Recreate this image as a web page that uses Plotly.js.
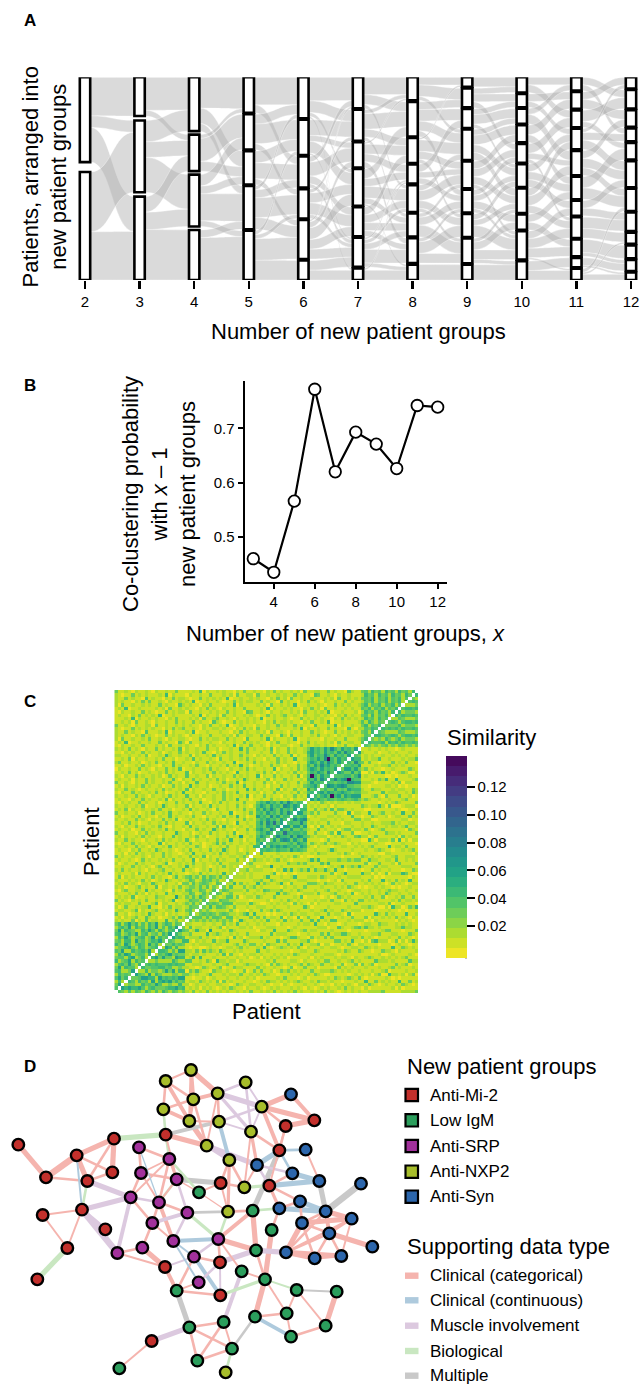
<!DOCTYPE html>
<html><head><meta charset="utf-8">
<script src="https://cdn.plot.ly/plotly-3.0.1.min.js"></script>
<style>html,body{margin:0;padding:0;background:#fff}#chart{width:641px;height:1385px}</style>
</head><body><div id="chart"></div>
<script>
// ---------------- Panel A data ----------------
const numGroups = [2,3,4,5,6,7,8,9,10,11,12];
const groupSizes = [
  [44,56],
  [20,37,43],
  [28,19,27,26],
  [18,18,17,22,25],
  [21,18,16,15,20,10],
  [16,16,13,19,15,15,6],
  [12,18,13,10,14,12,13,8],
  [5,10,10,16,14,12,12,13,8],
  [8,7,8,9,10,12,13,8,15,10],
  [7,9,9,11,13,12,8,11,9,5,6],
  [6,10,9,7,9,14,12,10,6,7,6,4]
];
// flows between consecutive numbers of groups: [fromGroup, toGroup, patients]
const flows = [
  [[1,1,20],[1,2,6],[1,3,18],[2,2,31],[2,3,25]],
  [[1,1,17],[1,2,3],[2,1,11],[2,2,8],[2,3,18],[3,2,8],[3,3,9],[3,4,26]],
  [[1,1,16],[1,3,8],[1,4,4],[2,1,2],[2,2,12],[2,3,5],[3,2,6],[3,3,4],[3,4,14],[3,5,3],[4,4,4],[4,5,22]],
  [[1,1,14],[1,3,4],[2,1,5],[2,2,10],[2,4,3],[3,2,6],[3,3,8],[3,5,3],[4,1,2],[4,3,4],[4,4,10],[4,5,6],[5,2,2],[5,4,2],[5,5,11],[5,6,10]],
  [[1,1,12],[1,2,6],[1,4,2],[1,7,1],[2,2,8],[2,3,3],[2,4,6],[2,6,1],[3,1,3],[3,3,7],[3,5,4],[3,6,2],[4,2,2],[4,4,5],[4,5,6],[4,6,2],[5,1,1],[5,3,3],[5,4,6],[5,5,5],[5,6,5],[6,6,5],[6,7,5]],
  [[1,1,9],[1,2,5],[1,5,2],[2,1,2],[2,2,8],[2,3,4],[2,6,2],[3,1,1],[3,3,5],[3,4,4],[3,7,3],[4,2,5],[4,4,4],[4,5,6],[4,6,3],[4,8,1],[5,3,4],[5,5,4],[5,6,4],[5,7,3],[6,4,1],[6,5,2],[6,6,3],[6,7,7],[6,8,2],[7,4,1],[7,8,5]],
  [[1,1,4],[1,2,6],[1,4,2],[2,2,4],[2,3,6],[2,4,5],[2,6,3],[3,1,1],[3,4,6],[3,5,4],[3,7,2],[4,3,4],[4,5,3],[4,6,3],[5,4,3],[5,5,5],[5,7,4],[5,8,2],[6,5,2],[6,6,4],[6,8,6],[7,6,2],[7,7,6],[7,8,5],[8,9,8]],
  [[1,1,5],[2,1,3],[2,2,4],[2,5,3],[3,2,3],[3,3,5],[3,6,2],[4,3,3],[4,4,5],[4,6,4],[4,7,4],[5,4,4],[5,5,4],[5,7,4],[5,9,2],[6,5,3],[6,6,3],[6,8,4],[6,9,2],[7,6,3],[7,7,3],[7,9,6],[8,7,2],[8,8,4],[8,9,5],[8,10,2],[9,10,8]],
  [[1,1,4],[1,3,4],[2,2,4],[2,4,3],[3,1,3],[3,5,5],[4,2,5],[4,6,4],[5,3,5],[5,5,3],[5,8,2],[6,4,4],[6,6,4],[6,7,4],[7,4,4],[7,5,5],[7,8,4],[8,6,4],[8,9,4],[9,7,4],[9,8,5],[9,9,5],[9,11,1],[10,10,5],[10,11,5]],
  [[1,2,4],[1,4,3],[2,1,4],[2,3,5],[3,2,6],[3,5,3],[4,1,2],[4,4,4],[4,6,5],[5,3,4],[5,6,5],[5,7,4],[6,5,6],[6,7,6],[7,6,4],[7,8,4],[8,8,6],[8,9,5],[9,10,7],[9,11,2],[10,11,4],[10,12,1],[11,7,2],[11,9,1],[11,12,3]]
];

// ---------------- Panel B data ----------------
const coNumGroups = [3,4,5,6,7,8,9,10,11,12];
const coClusterProb = [0.460,0.435,0.566,0.772,0.620,0.693,0.671,0.626,0.742,0.739];

// ---------------- Panel C data (lower triangle, one level code per cell) ----------------
const simLevels = {'0':0.002,'1':0.009,'2':0.016,'3':0.026,'4':0.036,'5':0.046,'6':0.058,'7':0.070,'8':0.086,'9':0.110,'a':0.135};
const simTicks = [0.02,0.04,0.06,0.08,0.10,0.12];
const heatBlockStarts = [0,21,35,42,57,73];
const heatRowsA = ["","4","36","252","4635","25343","452236","3625442","24536325","523462534","3442562352","25365234425","436225345362","2345632542345","53264235426352","342552634235463","2536423452362534","45235362452342536","362543225364253245","2453625342536242536","35246352425362354243"];
const heatRowsB = [
"212113021412211512312|",
"120212311421201123142|3",
"311201212152112021211|24",
"122112402112311221521|342",
"201311212251102131221|2433",
"121221131112402211212|32423",
"312102121311212125011|243324",
"121214011211322111621|3242532",
"211121312021211412112|24312423",
"102311221512112103121|342243124",
"212011231211402212131|2332424132",
"121312102214211211203|31423432143",
"211121213120121521121|243124342312",
"130212111213121102412|3423142432423"];
const heatRowsG = [
"12111203121121214121101213121121512|",
"21312112102112311211412101213121112|2",
"11211312121023112112151211210121312|12",
"20121131211211240112121311211213112|221",
"12112101312112121311211502112131211|1312",
"31211211210211312112113121402112112|21231",
"11202131211211312110121511211213121|122131"];
const heatRowsC = [
"121102131121421121012131121131215211201211|",
"211211312102112141211211320121121311211215|5",
"102113121121150211212131120112413121121121|46",
"211312110211213121121410211211312151120211|534",
"120211213121102114121121312011211312161121|4653",
"311211021312112111521120121131211214011211|35464",
"121120113121121412110211312115212110211312|564375",
"210211312112131102112141211211305121121121|4536546",
"112131201121121312111402112113121210511211|46375846",
"211211312102113121401121121312110211213121|354645364",
"120112131211021141211213110211213121512011|6453746354",
"311211201213112141121102113121121150112131|45364536475",
"121302112112131120112141211210311211213121|536475364536",
"211211213011215211211302112141211211312102|4653645376465",
"102121131211201211312112141102131211213111|35464536475354"];
const heatRowsD = [
"121102113121121402112131120112113121511201121131211202112|",
"211211312102112131211411202112113121121502113121102113121|6",
"102113121121312011215112110211213121411211202113121121312|45",
"211312101211213121121402112113112011211513121121402113121|635",
"120211213121120113121151211201121131214112112021131211213|4563",
"311210211312112131120211411211213121502112113120211211312|36454",
"121120211312112114102113121121312011215211211302113121121|546375",
"210211312112120131211411211302112113121211502113121121402|4a53645",
"1121312011211213121114021121131212105112112131202112131211|35465374",
"0211211312102113121401121121312110211213121121150211213120|465364546",
"1120112131211021141211213110211213121512011211312102113121|5364756453",
"2311211201213112141121102113121121150112131211213121102113|46536475364",
"1121302112112131120112141211210311211213121102113121151121|354647a53645",
"2211211213011215211211302112141211211312102121131211402112|4635475364536",
"1102121131211201211312112141102131211213111211302113121121|56453645364754",
"2121312102113121121402112113112011211513121121402113121121|364536475364536"];
const heatRowsE = [
"1021121131"+"1121203112"+"1211021312"+"1112150211"+"3112102112"+"2101131212"+"2121102131"+"121|",
"1215011211"+"2113121104"+"2031121121"+"1021121131"+"2121102131"+"1211021312"+"1121203112"+"211|4",
"2031121121"+"3112102112"+"2101131212"+"2113121104"+"1112150211"+"1215011211"+"1021121131"+"112|35",
"2121102131"+"2101131212"+"1021121131"+"1121203112"+"2113121104"+"2031121121"+"3112102112"+"211|243",
"2113121104"+"1112150211"+"1215011211"+"1211021312"+"1121203112"+"1021121131"+"2101131212"+"121|3425",
"2101131212"+"1211021312"+"3112102112"+"2121102131"+"2031121121"+"1112150211"+"2113121104"+"102|24354",
"3112102112"+"2031121121"+"2121102131"+"1215011211"+"1021121131"+"2113121104"+"1112150211"+"211|352435",
"1121203112"+"1021121131"+"2113121104"+"2101131212"+"1211021312"+"2121102131"+"1215011211"+"112|4253243",
"1112150211"+"2121102131"+"1121203112"+"3112102112"+"1215011211"+"2101131212"+"1211021312"+"121|25342534",
"1211021312"+"1215011211"+"1112150211"+"2031121121"+"2101131212"+"3112102112"+"2121102131"+"211|342524352",
"1021121131"+"2101131212"+"2031121121"+"2113121104"+"3112102112"+"1121203112"+"1215011211"+"120|2534253425",
"1215011211"+"1121203112"+"1211021312"+"1021121131"+"1112150211"+"2121102131"+"2031121121"+"211|43524352435",
"2031121121"+"2113121104"+"2121102131"+"1112150211"+"1121203112"+"1215011211"+"2101131212"+"112|352435243524",
"2121102131"+"3112102112"+"1215011211"+"2101131212"+"2113121104"+"1211021312"+"1021121131"+"211|2435243524352",
"2113121104"+"1211021312"+"2101131212"+"1215011211"+"2121102131"+"2031121121"+"1121203112"+"121|34352435243524",
"2101131212"+"1112150211"+"1021121131"+"1121203112"+"2031121121"+"2113121104"+"3112102112"+"111|253425342534253",
"3112102112"+"1021121131"+"1112150211"+"2121102131"+"1211021312"+"1121203112"+"2113121104"+"211|3425342534253425"];

// ---------------- Panel D data ----------------
const groupNames = ['Anti-Mi-2','Low IgM','Anti-SRP','Anti-NXP2','Anti-Syn'];
const groupColors = ['#C3302C','#2B9E5C','#A2319C','#A7BD2B','#2C66AC'];
const edgeTypeNames = ['Clinical (categorical)','Clinical (continuous)','Muscle involvement','Biological','Multiple'];
const edgeTypeColors = ['#F5B4AE','#AECADD','#DCC9DF','#C9E7C1','#C9C9C9'];
const nodeX = [573,497,737,653,873,580,785,490,943,857,568,657,753,497,342,55,620,417,838,917,230,508,688,771,138,337,262,423,877,530,958,1083,662,733,808,597,392,477,900,128,246,684,758,838,562,977,1055,457,316,815,906,988,202,427,352,520,655,1117,768,858,944,1024,582,660,495,725,112,795,596,530,661,890,1010,860,765,671,977,568,873,455,696,592,358,677];
const nodeY = [90,123,127,160,163,178,200,208,241,258,243,245,275,284,296,314,317,322,331,329,346,357,360,375,412,397,423,399,400,418,423,431,429,442,437,457,472,487,484,525,509,515,512,505,518,514,536,549,568,570,549,580,624,623,639,603,597,620,631,637,655,648,650,667,681,694,718,718,727,752,766,750,755,820,830,846,857,862,890,903,926,962,985,997];
const nodeGroup = [3,3,3,3,4,3,3,3,0,0,3,3,3,0,0,0,3,2,0,4,0,2,3,4,0,0,0,2,4,2,4,4,0,3,0,1,2,2,4,0,0,3,1,4,2,4,4,2,0,1,4,4,0,2,2,2,2,4,1,4,4,4,2,0,0,1,0,1,2,1,0,1,1,1,1,1,1,1,1,0,1,1,1,3];
// [node, node, supporting data type, strength]
const edges = [
[1,2,0,1.5],[1,6,0,3],[1,4,0,4],[1,11,0,2],[2,6,0,2],[2,8,0,2],[2,11,0,3],[6,8,0,2],[6,11,0,2.5],[6,4,0,3],[8,11,0,3],[11,17,0,4],[6,17,0,2],[4,12,0,2],[4,17,0,1.5],[11,12,0,1.5],
[4,7,2,4],[4,3,2,2],[3,7,2,1.5],[3,13,2,2],[12,13,2,1.5],[12,7,2,2],[4,13,2,2.5],[7,13,2,1.5],
[7,5,0,4],[7,9,0,4],[5,9,0,3],[7,10,0,2],[10,9,0,4],[7,19,0,3],[10,19,0,2],
[8,14,3,2],[14,15,3,4],[14,12,4,3],[14,17,0,4],[14,22,3,2],[14,30,0,1.5],
[12,23,1,3],[17,23,2,3],[17,24,2,4],[13,24,0,2.5],[13,19,0,2],[13,34,0,1.5],
[19,20,1,2],[19,24,1,4],[19,29,1,2],[20,31,0,1.5],[29,31,1,4],[24,29,2,2],[19,43,4,4],[10,35,0,1.5],
[35,31,1,4],[35,29,0,2],[35,39,0,2],[35,44,0,2.5],[34,35,3,2.5],[33,34,0,2],[30,33,4,4],[33,23,0,2],[23,34,0,2],[23,42,0,2.5],[24,35,2,2],[24,34,0,1.5],
[31,46,4,4],[32,46,4,5],[39,46,1,4],[44,46,1,4],[44,39,0,2],[46,47,0,4],[46,51,0,2],[46,52,0,3],[51,52,0,2],[51,47,0,4],[52,47,0,2],[52,58,0,4],[52,61,0,2],[52,62,0,2],[60,51,0,4],[60,52,0,2],[60,61,0,4],[60,62,0,4],[61,62,0,2],[61,51,0,2],[62,47,0,1.5],[60,47,0,2],[60,46,0,2],[39,51,0,2],
[43,44,3,2],[43,42,0,2],[43,59,0,4],[43,57,0,3],[44,50,0,2],[50,68,0,4],[59,60,2,4],[64,59,2,4],[59,57,0,4],[57,42,3,2],[45,57,3,2.5],[36,33,0,1.5],[36,42,0,1],[33,42,0,1.5],[36,30,0,1],
[68,72,3,1.5],[68,71,3,2.5],[68,75,0,4],[68,74,0,1.5],[72,73,4,1.5],[72,74,0,1.5],[72,77,0,1.5],[73,77,0,4],[74,75,0,2],[74,79,0,1.5],[75,79,1,3],[77,79,0,2],[75,81,4,2],[76,78,0,2],[76,82,0,2],[78,81,0,2],[78,82,0,2],[81,82,0,2],[81,84,3,2],[76,81,0,1.5],[78,80,2,4],[80,83,0,1.5],[70,78,4,4],[70,71,0,2],[70,63,0,2],[63,64,0,2],[69,64,2,2],[63,56,1,1.5],[63,57,2,2],[64,57,0,2],[64,71,2,1.5],[66,76,2,3],[65,54,0,4],[65,63,2,1.5],[65,70,0,3],[56,57,1,3],[56,38,0,3],[56,69,1,1.5],[63,71,1,3],[69,70,0,1.5],[66,68,0,1.5],[59,68,0,2],[57,66,0,1.5],
[18,22,0,2],[18,28,0,2],[18,38,1,1],[22,28,0,1.5],[22,30,0,2],[22,37,0,1.5],[22,38,0,2],[28,30,0,2],[28,37,0,2],[28,38,0,1.5],[30,38,0,1.5],[37,38,2,2],[37,41,2,4],[37,27,2,4],[37,48,0,2],[37,55,2,3],[38,45,0,2],[38,48,0,2],[45,48,2,3],[48,54,0,2],[54,55,0,2],[55,41,2,5],[49,41,2,3],[22,36,3,2],[30,45,2,2],[45,56,2,2],[48,56,0,1.5],[54,65,0,2],[55,65,0,1.5],[45,42,4,2],[38,30,3,2],
[16,25,0,4],[25,21,0,5],[25,27,0,2],[21,15,0,4],[21,27,0,4],[21,26,0,2],[15,26,0,4],[15,27,0,2],[26,27,0,2],[21,41,1,1.5],[27,41,3,2],[40,41,0,1.5],[40,53,0,1.5],[41,53,0,1.5],[53,67,3,4]
];

// ---------------- layout helpers (styles) ----------------
const W = 641, H = 1385;
const px = v => v / W, py = v => 1 - v / H;
const FONT = 'Liberation Sans, Arial, Helvetica, sans-serif';
const stratumGap = [4.9, 2.2, 1.7, 0.74, 0.74, 0.74, 0.74, 0.74, 0.74, 0.74, 0.74];
const barHalf = 0.095;
const edgeWidthScale = 1.3;

const traces = [];
const shapes = [];
const annotations = [];

// ---------------- Panel A: strata + flows ----------------
const strata = numGroups.map((k, li) => {
  const sizes = groupSizes[li];
  const total = sizes.reduce((a, b) => a + b, 0);
  const g = stratumGap[li];
  const f = (100 - g * (k - 1)) / total;
  let t = 0;
  const tops = [], bots = [];
  sizes.forEach(s => { tops.push(100 - t); bots.push(100 - t - s * f); t += s * f + g; });
  return { k, f, tops, bots };
});

flows.forEach((fl, li) => {
  const A = strata[li], B = strata[li + 1];
  const outOff = {}, inOff = {};
  const bySrc = fl.slice().sort((p, q) => p[0] - q[0] || p[1] - q[1]);
  bySrc.forEach(r => { const a = r[0]; outOff[a] = outOff[a] || 0; r.o = outOff[a]; outOff[a] += r[2]; });
  const byDst = fl.slice().sort((p, q) => p[1] - q[1] || p[0] - q[0]);
  byDst.forEach(r => { const b = r[1]; inOff[b] = inOff[b] || 0; r.i = inOff[b]; inOff[b] += r[2]; });
  fl.forEach(r => {
    const [a, b, n] = r;
    const y0t = A.tops[a - 1] - r.o * A.f, y0b = y0t - n * A.f;
    const y1t = B.tops[b - 1] - r.i * B.f, y1b = y1t - n * B.f;
    const x0 = A.k + barHalf, x1 = B.k - barHalf, xm = (x0 + x1) / 2;
    shapes.push({
      type: 'path', xref: 'x', yref: 'y', layer: 'below',
      path: `M ${x0},${y0t} C ${xm},${y0t} ${xm},${y1t} ${x1},${y1t} L ${x1},${y1b} C ${xm},${y1b} ${xm},${y0b} ${x0},${y0b} Z`,
      fillcolor: 'rgba(172,172,172,0.45)',
      line: { color: 'rgba(255,255,255,0.7)', width: 0.5 }
    });
  });
});

const barX = [], barBase = [], barLen = [];
strata.forEach(s => s.tops.forEach((tp, i) => { barX.push(s.k); barBase.push(s.bots[i]); barLen.push(tp - s.bots[i]); }));
traces.push({
  type: 'bar', x: barX, y: barLen, base: barBase, width: 2 * barHalf,
  marker: { color: '#fff', line: { color: '#000', width: 2.6 } },
  xaxis: 'x', yaxis: 'y', hoverinfo: 'skip'
});

// ---------------- Panel B ----------------
traces.push({
  type: 'scatter', mode: 'lines+markers', x: coNumGroups, y: coClusterProb,
  line: { color: '#000', width: 2.2 },
  marker: { size: 11.5, color: '#fff', line: { color: '#000', width: 1.8 } },
  xaxis: 'x2', yaxis: 'y2', hoverinfo: 'skip', cliponaxis: false
});

// ---------------- Panel C ----------------
const heatRows = [].concat(heatRowsA, heatRowsB, heatRowsG, heatRowsC, heatRowsD, heatRowsE);
const N = heatRows.length;
function blockStartOf(i) { let s = 0; heatBlockStarts.forEach(b => { if (i >= b) s = b; }); return s; }
function fitLeft(s, n) { s = s || ''; return s.length >= n ? s.slice(0, n) : s + '1'.repeat(n - s.length); }
function fitRight(s, n) { s = s || ''; return s.length >= n ? s.slice(s.length - n) : '2'.repeat(n - s.length) + s; }
const z = Array.from({ length: N }, () => Array(N).fill(null));
heatRows.forEach((row, i) => {
  const parts = row.split('|');
  const L = parts.length > 1 ? parts[0] : '';
  const R = parts.length > 1 ? parts[1] : parts[0];
  const bs = blockStartOf(i);
  const s = fitLeft(L, bs) + fitRight(R, i - bs);
  for (let j = 0; j < i; j++) { const v = simLevels[s[j]] ?? 0.009; z[i][j] = v; z[j][i] = v; }
});
const vir = ['#440154','#482475','#414487','#355f8d','#2a788e','#21918c','#22a884','#44bf70','#7ad151','#bddf26','#fde725'];
function hex2rgb(h) { return [1, 3, 5].map(k => parseInt(h.substr(k, 2), 16)); }
function virAt(t) { const p = t * 10, i = Math.min(9, Math.floor(p)), f = p - i; const a = hex2rgb(vir[i]), b = hex2rgb(vir[i + 1]); return `rgb(${a.map((c, k) => Math.round(c + (b[k] - c) * f)).join(',')})`; }
const nBins = 20, cs = [];
for (let b = 0; b < nBins; b++) { const c = virAt(1 - (b + 0.5) / nBins); cs.push([b / nBins, c]); cs.push([(b + 1) / nBins, c]); }
const zmin = -0.003, zmax = 0.142;
traces.push({
  type: 'heatmap', z: z, colorscale: cs, zmin: zmin, zmax: zmax,
  xaxis: 'x3', yaxis: 'y3', hoverinfo: 'skip', hoverongaps: false,
  colorbar: {
    x: px(445.5), xanchor: 'left', xpad: 0, y: py((756 + 958.3) / 2), yanchor: 'middle', ypad: 0,
    len: 202.3, lenmode: 'pixels', thickness: 20.5, thicknessmode: 'pixels',
    outlinewidth: 0, tickvals: simTicks, ticktext: simTicks.map(v => v.toFixed(2)),
    ticks: 'outside', ticklen: 8, tickwidth: 2, tickcolor: '#000',
    tickfont: { family: FONT, size: 15, color: '#000' }
  }
});
shapes.push({ type: 'line', xref: 'paper', yref: 'paper', x0: px(466), x1: px(466), y0: py(756), y1: py(958.3), line: { color: '#000', width: 2 } });

// ---------------- Panel D ----------------
const edgeGroups = {};
edges.forEach(([a, b, t, w]) => {
  const key = t + '_' + w;
  if (!edgeGroups[key]) edgeGroups[key] = { t, w, x: [], y: [] };
  const g = edgeGroups[key];
  g.x.push(nodeX[a - 1], nodeX[b - 1], null);
  g.y.push(nodeY[a - 1], nodeY[b - 1], null);
});
Object.values(edgeGroups).sort((p, q) => q.w - p.w).forEach(g => {
  traces.push({
    type: 'scatter', mode: 'lines', x: g.x, y: g.y, xaxis: 'x4', yaxis: 'y4',
    line: { color: edgeTypeColors[g.t], width: g.w * edgeWidthScale }, hoverinfo: 'skip', connectgaps: false
  });
});
traces.push({
  type: 'scatter', mode: 'markers', x: nodeX, y: nodeY, xaxis: 'x4', yaxis: 'y4',
  marker: { size: 11.5, color: nodeGroup.map(g => groupColors[g]), line: { color: '#000', width: 2.4 } },
  hoverinfo: 'skip', cliponaxis: false
});

// legends for D
const grpY = [1095, 1120.3, 1146, 1171.7, 1196.7];
groupNames.forEach((name, i) => {
  shapes.push({ type: 'rect', xref: 'paper', yref: 'paper', x0: px(405.5), x1: px(418), y0: py(grpY[i] + 6.2), y1: py(grpY[i] - 6.2), fillcolor: groupColors[i], line: { color: '#000', width: 2.2 } });
  annotations.push({ text: name, x: px(428), y: py(grpY[i]), xanchor: 'left', font: { size: 17 } });
});
const typY = [1275.7, 1300.3, 1325.7, 1351, 1375.7];
edgeTypeNames.forEach((name, i) => {
  shapes.push({ type: 'rect', xref: 'paper', yref: 'paper', x0: px(405), x1: px(418.5), y0: py(typY[i] + 3.2), y1: py(typY[i] - 3.2), fillcolor: edgeTypeColors[i], line: { width: 0 } });
  annotations.push({ text: name, x: px(428), y: py(typY[i]), xanchor: 'left', font: { size: 17 } });
});
annotations.push({ text: 'New patient groups', x: px(405), y: py(1066.7), xanchor: 'left', font: { size: 22 } });
annotations.push({ text: 'Supporting data type', x: px(405), y: py(1246.7), xanchor: 'left', font: { size: 22 } });

// ---------------- titles / panel letters ----------------
[['A', 29.5, 20.5], ['B', 29.5, 386], ['C', 29.5, 701.5], ['D', 29.5, 1066]].forEach(([t, x, y]) =>
  annotations.push({ text: '<b>' + t + '</b>', x: px(x), y: py(y), font: { size: 17 } }));
annotations.push({ text: 'Patients, arranged into<br>new patient groups', x: px(44), y: py(177.5), textangle: -90, font: { size: 22 } });
annotations.push({ text: 'Number of new patient groups', x: px(358), y: py(332), font: { size: 22 } });
annotations.push({ text: 'Co-clustering probability<br>with <i>x</i> – 1<br>new patient groups', x: px(159), y: py(494), textangle: -90, font: { size: 22 } });
annotations.push({ text: 'Number of new patient groups, <i>x</i>', x: px(345), y: py(633), font: { size: 22 } });
annotations.push({ text: 'Similarity', x: px(445), y: py(737), xanchor: 'left', font: { size: 22 } });
annotations.push({ text: 'Patient', x: px(91), y: py(842), textangle: -90, font: { size: 22 } });
annotations.push({ text: 'Patient', x: px(266), y: py(1012), font: { size: 22 } });
annotations.forEach(a => {
  a.xref = 'paper'; a.yref = 'paper'; a.showarrow = false;
  a.xanchor = a.xanchor || 'center'; a.yanchor = 'middle';
  a.font = Object.assign({ family: FONT, color: '#000' }, a.font);
});

const hidden = { visible: false, fixedrange: true };
const layout = {
  width: W, height: H, margin: { l: 0, r: 0, t: 0, b: 0 },
  paper_bgcolor: '#fff', plot_bgcolor: 'rgba(0,0,0,0)', showlegend: false,
  font: { family: FONT, color: '#000' }, barmode: 'overlay',
  xaxis: { domain: [px(57.7), px(640.8)], range: [1.5, 12.18], anchor: 'y', tickvals: numGroups,
    ticks: 'outside', ticklen: 8, tickwidth: 2.5, tickcolor: '#000', showline: false, showgrid: false, zeroline: false,
    tickfont: { family: FONT, size: 15, color: '#000' }, fixedrange: true },
  yaxis: Object.assign({ domain: [py(280), py(77.3)], range: [0, 100], anchor: 'x' }, hidden),
  xaxis2: { domain: [px(244.7), px(446.7)], range: [2.58, 12.44], anchor: 'y2', tickvals: [4, 6, 8, 10, 12],
    ticks: 'outside', ticklen: 5, tickwidth: 2, tickcolor: '#000', showline: true, linewidth: 2.2, linecolor: '#000',
    showgrid: false, zeroline: false, tickfont: { family: FONT, size: 15, color: '#000' }, fixedrange: true },
  yaxis2: { domain: [py(582), py(380.7)], range: [0.4171, 0.7877], anchor: 'x2', tickvals: [0.5, 0.6, 0.7], ticktext: ['0.5', '0.6', '0.7'],
    ticks: 'outside', ticklen: 5, tickwidth: 2, tickcolor: '#000', showline: true, linewidth: 2.2, linecolor: '#000',
    showgrid: false, zeroline: false, tickfont: { family: FONT, size: 15, color: '#000' }, fixedrange: true },
  xaxis3: Object.assign({ domain: [px(114.3), px(418)], range: [-0.5, N - 0.5], anchor: 'y3' }, hidden),
  yaxis3: Object.assign({ domain: [py(993.3), py(690)], range: [-0.5, N - 0.5], anchor: 'x3' }, hidden),
  xaxis4: Object.assign({ domain: [0, px(400)], range: [0, 1200], anchor: 'y4' }, hidden),
  yaxis4: Object.assign({ domain: [0, py(1040)], range: [1035, 0], anchor: 'x4' }, hidden),
  shapes: shapes, annotations: annotations
};
Plotly.newPlot('chart', traces, layout, { staticPlot: true, displayModeBar: false });
</script></body></html>
